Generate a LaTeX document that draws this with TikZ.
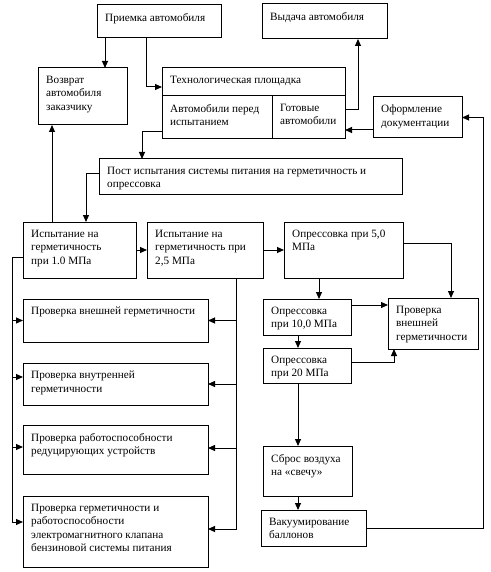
\documentclass[tikz,border=0pt]{standalone}
\usepackage{fontspec}
\setmainfont{Liberation Serif}
\usetikzlibrary{arrows.meta}
\tikzset{
  box/.style={draw, line width=1pt, inner sep=0pt, outer sep=0pt},
  txt/.style={anchor=north west, inner sep=0pt, align=left, font=\fontsize{11.2}{13.3}\selectfont},
  arr/.style={line width=1pt, -{Triangle[length=7pt,width=6pt]}},
  ln/.style={line width=1pt}
}
\newcommand{\bx}[6]{%
  \node[box, minimum width={(#4)-(#2)}, minimum height={(#5)-(#3)}] (#1) at ({((#2)+(#4))/2},{((#3)+(#5))/2}) {};
  \node[txt] (#1-t) at ([xshift=8pt,yshift=-8pt]#1.north west) {#6};}
\begin{document}
\begin{tikzpicture}[x=1pt,y=-1pt]
\useasboundingbox (0,0) rectangle (490,572);
\bx{priem}{97}{5}{221}{38}{Приемка автомобиля}
\bx{vydacha}{262}{4}{387}{39}{Выдача автомобиля}
\bx{vozvrat}{38}{68}{127}{125}{Возврат\\автомобиля\\заказчику}
\bx{techT}{162}{68}{345}{96}{Технологическая площадка}
\bx{techL}{162}{96}{272}{139}{Автомобили перед\\испытанием}
\bx{techR}{272}{96}{345}{139}{Готовые\\автомобили}
\bx{oform}{373}{97}{462}{138}{Оформление\\документации}
\bx{post}{99}{159}{402}{194}{Пост испытания системы питания на герметичность и\\опрессовка}
\bx{isp1}{23}{222}{136}{278}{Испытание на\\герметичность\\при 1.0 МПа}
\bx{isp2}{147}{222}{263}{278}{Испытание на\\герметичность при\\2,5 МПа}
\bx{opr5}{284}{222}{403}{278}{Опрессовка при 5,0\\МПа}
\bx{opr10}{263}{299}{351}{335}{Опрессовка\\при 10,0 МПа}
\bx{opr20}{263}{348}{351}{383}{Опрессовка\\при 20 МПа}
\bx{provR}{388}{298}{478}{349}{Проверка\\внешней\\герметичности}
\bx{sbros}{263}{446}{352}{496}{Сброс воздуха\\на «свечу»}
\bx{vakuum}{261}{510}{366}{546}{Вакуумирование\\баллонов}
\bx{pv1}{23}{299}{208}{342}{Проверка внешней герметичности}
\bx{pv2}{23}{363}{208}{405}{Проверка внутренней\\герметичности}
\bx{pv3}{23}{425}{208}{474}{Проверка работоспособности\\редуцирующих устройств}
\bx{pv4}{23}{496}{208}{567}{Проверка герметичности и\\работоспособности\\электромагнитного клапана\\бензиновой системы питания}
\coordinate (rbus) at (483,0);
\coordinate (lbus) at (12,0);
% top area
\draw[arr] ([xshift=8pt]priem.south west) -- ([xshift=8pt]priem.south west |- vozvrat.north);
\draw[arr] ([xshift=49pt]priem.south west) |- ([yshift=-5pt]techT.west);
\draw[arr] ([yshift=7.5pt]techR.east) -| ([xshift=96pt]vydacha.south west);
\draw[arr] ([yshift=-12.5pt]oform.west) -- ([yshift=-12.5pt]oform.west -| techR.east);
\draw[arr] ([yshift=-14.5pt]techL.west) -| ([xshift=43pt]post.north west);
\draw[arr] (vakuum.east) -- (vakuum.east -| rbus) -- (rbus |- oform.east) -- (oform.east);
\draw[arr] ([xshift=29pt]isp1.north west) -- ([xshift=29pt]isp1.north west |- vozvrat.south);
\draw[arr] ([yshift=3.5pt]post.west) -| ([xshift=63pt]isp1.north west);
% middle row
\draw[arr] (isp1.east) -- (isp2.west);
\draw[arr] (isp2.east) -- (opr5.west);
\draw[arr] ([yshift=7pt]opr5.east) -| ([xshift=63pt]provR.north west);
\draw[arr] ([xshift=35pt]opr5.south west) -- ([xshift=35pt]opr5.south west |- opr10.north);
\draw[arr] ([yshift=12pt]opr10.east) -- ([yshift=12pt]opr10.east -| provR.west);
\draw[arr] ([xshift=35pt]opr10.south west) -- ([xshift=35pt]opr10.south west |- opr20.north);
\draw[arr] ([yshift=3.5pt]opr20.east) -| ([xshift=6pt]provR.south west);
\draw[arr] ([xshift=35pt]opr20.south west) -- ([xshift=35pt]opr20.south west |- sbros.north);
\draw[arr] ([xshift=35pt]sbros.south west) -- ([xshift=35pt]sbros.south west |- vakuum.north);
% left bus
\draw[arr] ([yshift=-7pt]isp1.west) -| ([yshift=9.5pt]pv4.west -| lbus) -- ([yshift=9.5pt]pv4.west);
\draw[arr] (lbus |- pv1.west) -- (pv1.west);
\draw[arr] ([yshift=7pt]pv2.west -| lbus) -- ([yshift=7pt]pv2.west);
\draw[arr] ([yshift=2.5pt]pv3.west -| lbus) -- ([yshift=2.5pt]pv3.west);
% right bus
\coordinate (mbus) at ([xshift=89pt]isp2.south west);
\draw[arr] (mbus) |- ([yshift=2.5pt]pv4.east);
\draw[arr] (mbus |- pv1.east) -- (pv1.east);
\draw[arr] (mbus |- pv2.east) -- (pv2.east);
\draw[arr] ([yshift=1.5pt]pv3.east -| mbus) -- ([yshift=1.5pt]pv3.east);
\end{tikzpicture}
\end{document}
